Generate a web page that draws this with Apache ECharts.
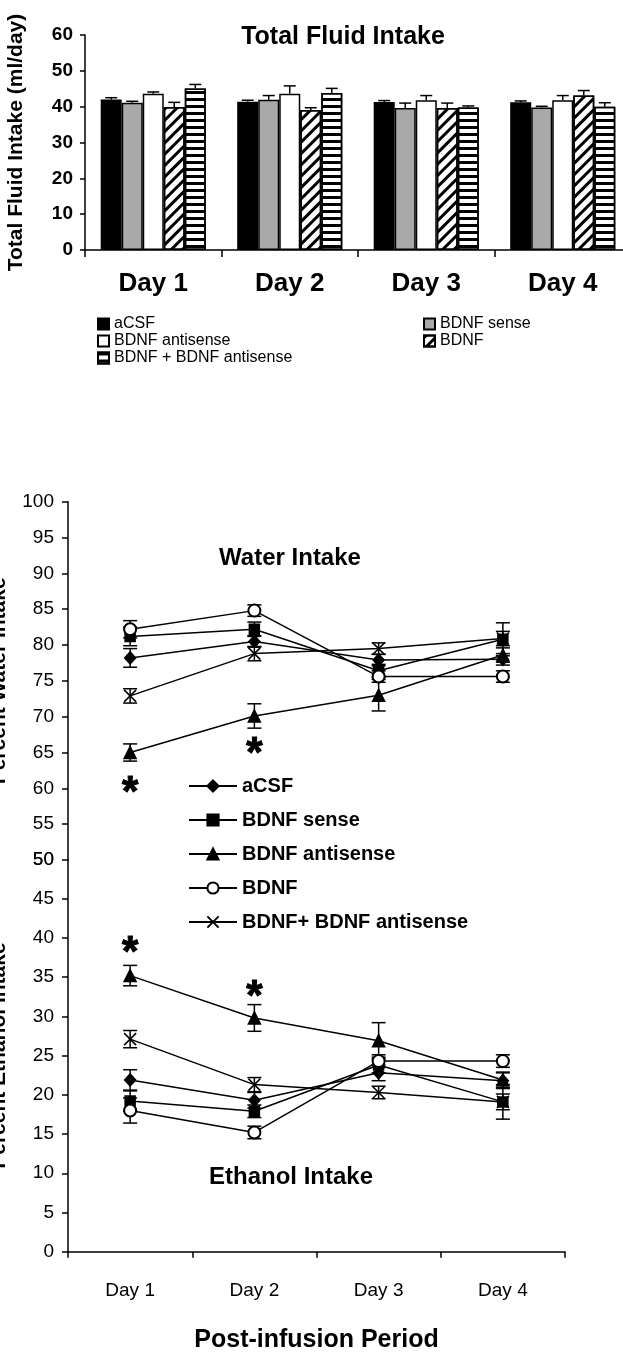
<!DOCTYPE html>
<html><head><meta charset="utf-8">
<script src="https://cdn.jsdelivr.net/npm/echarts@6/dist/echarts.min.js"></script>
<style>
html,body{margin:0;padding:0;background:#fff;width:623px;height:1352px;overflow:hidden}
#c1,#c2{position:absolute;left:0;top:0;width:623px;height:1352px}
</style></head>
<body><div id="c1"></div><div id="c2"></div>
<script>
// ---------- shared categories ----------
const days = ['Day 1', 'Day 2', 'Day 3', 'Day 4'];

// ---------- Total Fluid Intake (ml/day) ----------
const barGroups = ['aCSF', 'BDNF sense', 'BDNF antisense', 'BDNF', 'BDNF + BDNF antisense'];
const fluidACSF = [42.0, 41.4, 41.3, 41.2];
const fluidSense = [41.1, 41.9, 39.6, 39.8];
const fluidAnti = [43.6, 43.6, 41.8, 41.8];
const fluidBDNF = [39.9, 39.1, 39.6, 43.1];
const fluidCombo = [45.1, 43.8, 39.8, 40.0];
const fluidACSFErr = [0.5, 0.4, 0.4, 0.4];
const fluidSenseErr = [0.4, 1.2, 1.4, 0.3];
const fluidAntiErr = [0.5, 2.2, 1.3, 1.3];
const fluidBDNFErr = [1.3, 0.6, 1.4, 1.4];
const fluidComboErr = [1.1, 1.3, 0.4, 1.1];
const fluidTicks = [0, 10, 20, 30, 40, 50, 60];

// ---------- Percent Water Intake ----------
const lineGroups = ['aCSF', 'BDNF sense', 'BDNF antisense', 'BDNF', 'BDNF+ BDNF antisense'];
const waterACSF = [78.2, 80.5, 77.9, 78.0];
const waterSense = [81.2, 82.2, 76.4, 80.8];
const waterAnti = [65.0, 70.1, 73.0, 78.6];
const waterBDNF = [82.2, 84.8, 75.6, 75.6];
const waterCombo = [72.9, 78.8, 79.5, 80.9];
const waterACSFErr = [1.3, 0.8, 0.8, 0.8];
const waterSenseErr = [1.3, 1.0, 0.9, 2.3];
const waterAntiErr = [1.2, 1.7, 2.2, 1.0];
const waterBDNFErr = [1.2, 0.8, 0.8, 0.8];
const waterComboErr = [1.0, 1.0, 0.8, 1.0];
const waterStars = [[0, 61.0], [1, 66.4]];

// ---------- Percent Ethanol Intake ----------
const ethACSF = [21.9, 19.3, 22.8, 21.8];
const ethSense = [19.2, 17.9, 23.8, 19.1];
const ethAnti = [35.2, 29.8, 26.9, 21.9];
const ethBDNF = [18.0, 15.2, 24.3, 24.3];
const ethCombo = [27.1, 21.3, 20.3, 19.1];
const ethACSFErr = [1.3, 1.0, 1.0, 1.0];
const ethSenseErr = [1.3, 0.8, 1.0, 2.2];
const ethAntiErr = [1.3, 1.7, 2.3, 1.0];
const ethBDNFErr = [1.6, 0.8, 0.8, 0.8];
const ethComboErr = [1.1, 0.9, 0.8, 1.0];
const ethStars = [[0, 39.6], [1, 34.0]];

const FONT = "'Liberation Sans', Arial, sans-serif";
const NARROW = "'Liberation Sans Narrow', 'Liberation Sans', Arial, sans-serif";

// ================= Chart 1: bars =================
const fluidVals = [fluidACSF, fluidSense, fluidAnti, fluidBDNF, fluidCombo];
const fluidErrs = [fluidACSFErr, fluidSenseErr, fluidAntiErr, fluidBDNFErr, fluidComboErr];
const hatchDiag = {symbol: 'rect', symbolSize: 1, color: '#000', dashArrayX: [1, 0], dashArrayY: [3, 5], rotation: -Math.PI / 4};
const hatchHoriz = {symbol: 'rect', symbolSize: 1, color: '#000', dashArrayX: [1, 0], dashArrayY: [3, 4], rotation: 0};
const barStyles = [
  {color: '#000', borderColor: '#000', borderWidth: 1.5},
  {color: '#a9a9a9', borderColor: '#000', borderWidth: 1.5},
  {color: '#fff', borderColor: '#000', borderWidth: 1.5},
  {color: '#fff', borderColor: '#000', borderWidth: 1.5, decal: hatchDiag},
  {color: '#fff', borderColor: '#000', borderWidth: 1.5, decal: hatchHoriz}
];
const CAT_GAP = 0.23;
const barSeries = barGroups.map((name, i) => ({
  name, type: 'bar', data: fluidVals[i], barGap: '0%', barCategoryGap: (CAT_GAP * 100) + '%',
  itemStyle: barStyles[i], emphasis: {disabled: true}, z: 2
}));
const barErrData = [];
fluidVals.forEach((arr, s) => arr.forEach((v, d) => barErrData.push([d, v, fluidErrs[s][d], s])));
barSeries.push({
  type: 'custom', data: barErrData, z: 5, silent: true,
  renderItem: function (params, api) {
    const d = api.value(0), v = api.value(1), e = api.value(2), s = api.value(3);
    const base = api.coord([d, v]);
    const top = api.coord([d, v + e]);
    const cw = api.size([1, 0])[0];
    const bw = cw * (1 - CAT_GAP) / 5;
    const x = base[0] + (s - 2) * bw;
    const cap = 6;
    const st = {stroke: '#000', lineWidth: 1.5};
    return {type: 'group', children: [
      {type: 'line', shape: {x1: x, y1: base[1], x2: x, y2: top[1]}, style: st},
      {type: 'line', shape: {x1: x - cap, y1: top[1], x2: x + cap, y2: top[1]}, style: st}
    ]};
  }
});

const chart1 = echarts.init(document.getElementById('c1'), null, {renderer: 'canvas'});
const legendCommon = {
  orient: 'vertical', icon: 'rect', itemWidth: 11, itemHeight: 11, itemGap: 1, selectedMode: false,
  textStyle: {fontFamily: FONT, fontSize: 16, lineHeight: 16, color: '#000'}
};
chart1.setOption({
  animation: false,
  backgroundColor: 'transparent',
  graphic: [{type: 'text', x: 343, y: 37, style: {text: 'Total Fluid Intake', font: "bold 25px " + FONT, fill: '#000', textAlign: 'center', textVerticalAlign: 'middle'}}],
  legend: [
    Object.assign({data: ['aCSF', 'BDNF antisense', 'BDNF + BDNF antisense'], left: 92, top: 311}, legendCommon),
    Object.assign({data: ['BDNF sense', 'BDNF'], left: 418, top: 311}, legendCommon)
  ],
  grid: {left: 85, right: -8, top: 35, height: 215, outerBoundsMode: 'none', containLabel: false},
  xAxis: {
    type: 'category', data: days,
    axisLine: {lineStyle: {color: '#000', width: 1.5}},
    axisTick: {show: true, interval: 0, length: 7, lineStyle: {color: '#000', width: 1.5}},
    axisLabel: {fontFamily: FONT, fontWeight: 'bold', fontSize: 26, color: '#000', margin: 21}
  },
  yAxis: {
    type: 'value', min: fluidTicks[0], max: fluidTicks[fluidTicks.length - 1], interval: 10,
    name: 'Total Fluid Intake (ml/day)', nameLocation: 'middle', nameGap: 58,
    nameTextStyle: {fontFamily: FONT, fontWeight: 'bold', fontSize: 21, color: '#000'},
    axisLine: {show: true, lineStyle: {color: '#000', width: 1.5}},
    axisTick: {show: true, length: 5, lineStyle: {color: '#000', width: 1.5}},
    splitLine: {show: false},
    axisLabel: {fontFamily: NARROW, fontWeight: 'bold', fontSize: 19, color: '#000', margin: 12}
  },
  series: barSeries
});

// ================= Chart 2: lines =================
const waterVals = [waterACSF, waterSense, waterAnti, waterBDNF, waterCombo];
const waterErrs = [waterACSFErr, waterSenseErr, waterAntiErr, waterBDNFErr, waterComboErr];
const ethVals = [ethACSF, ethSense, ethAnti, ethBDNF, ethCombo];
const ethErrs = [ethACSFErr, ethSenseErr, ethAntiErr, ethBDNFErr, ethComboErr];
const symbols = ['diamond', 'rect', 'triangle', 'emptyCircle', 'path://M0,0L10,10M10,0L0,10'];
const symSizes = [[11, 12], 10, 12, 12, 12];

function lineSeries(vals, gridIdx) {
  return lineGroups.map((name, i) => ({
    name, type: 'line', data: vals[i], xAxisIndex: gridIdx, yAxisIndex: gridIdx,
    symbol: symbols[i], symbolSize: symSizes[i], showSymbol: true,
    lineStyle: {color: '#000', width: 1.5},
    itemStyle: {color: '#000', borderColor: '#000', borderWidth: 1.5},
    emphasis: {disabled: true}, z: 3
  }));
}
function errSeries(vals, errs, gridIdx) {
  const data = [];
  vals.forEach((arr, s) => arr.forEach((v, d) => data.push([d, v, errs[s][d]])));
  return {
    type: 'custom', data, xAxisIndex: gridIdx, yAxisIndex: gridIdx, z: 2, silent: true,
    renderItem: function (params, api) {
      const d = api.value(0), v = api.value(1), e = api.value(2);
      const t = api.coord([d, v + e]);
      const b = api.coord([d, v - e]);
      const x = t[0], cap = 7;
      const st = {stroke: '#000', lineWidth: 1.5};
      return {type: 'group', children: [
        {type: 'line', shape: {x1: x, y1: t[1], x2: x, y2: b[1]}, style: st},
        {type: 'line', shape: {x1: x - cap, y1: t[1], x2: x + cap, y2: t[1]}, style: st},
        {type: 'line', shape: {x1: x - cap, y1: b[1], x2: x + cap, y2: b[1]}, style: st}
      ]};
    }
  };
}
function starSeries(data, gridIdx) {
  return {
    type: 'scatter', data, xAxisIndex: gridIdx, yAxisIndex: gridIdx, symbolSize: 0, silent: true,
    label: {show: true, formatter: '*', position: 'inside', offset: [0, 12], fontFamily: FONT, fontWeight: 'bold', fontSize: 42, color: '#000', opacity: 1, textBorderColor: '#000', textBorderWidth: 1}
  };
}
const yLabel = {fontFamily: FONT, fontSize: 19, color: '#000', margin: 14};
const yCommon = {
  type: 'value', interval: 5, nameLocation: 'middle', nameGap: 58,
  nameTextStyle: {fontFamily: FONT, fontWeight: 'bold', fontSize: 21, color: '#000'},
  axisLine: {show: true, lineStyle: {color: '#000', width: 1.5}},
  axisTick: {show: true, length: 6, lineStyle: {color: '#000', width: 1.5}},
  splitLine: {show: false}, axisLabel: yLabel
};

const chart2 = echarts.init(document.getElementById('c2'), null, {renderer: 'canvas'});
chart2.setOption({
  animation: false,
  backgroundColor: 'transparent',
  graphic: [
    {type: 'text', x: 290, y: 558, style: {text: 'Water Intake', font: "bold 24px " + FONT, fill: '#000', textAlign: 'center', textVerticalAlign: 'middle'}},
    {type: 'text', x: 291, y: 1177, style: {text: 'Ethanol Intake', font: "bold 24px " + FONT, fill: '#000', textAlign: 'center', textVerticalAlign: 'middle'}}
  ],
  legend: {
    data: lineGroups, orient: 'vertical', left: 183, top: 771, itemWidth: 48, itemHeight: 14, itemGap: 14,
    selectedMode: false,
    textStyle: {fontFamily: FONT, fontWeight: 'bold', fontSize: 20, lineHeight: 20, color: '#000'}
  },
  grid: [
    {left: 68, right: 58, top: 501.7, height: 358.3, outerBoundsMode: 'none', containLabel: false},
    {left: 68, right: 58, top: 859.5, height: 392.2, outerBoundsMode: 'none', containLabel: false}
  ],
  xAxis: [
    {type: 'category', data: days, gridIndex: 0, show: false},
    {type: 'category', data: days, gridIndex: 1,
      name: 'Post-infusion Period', nameLocation: 'middle', nameGap: 76,
      nameTextStyle: {fontFamily: FONT, fontWeight: 'bold', fontSize: 25, color: '#000'},
      axisLine: {lineStyle: {color: '#000', width: 1.5}},
      axisTick: {show: true, interval: 0, length: 6, lineStyle: {color: '#000', width: 1.5}},
      axisLabel: {fontFamily: FONT, fontSize: 19, color: '#000', margin: 30}}
  ],
  yAxis: [
    Object.assign({}, yCommon, {gridIndex: 0, min: 50, max: 100, name: 'Percent Water Intake'}),
    Object.assign({}, yCommon, {gridIndex: 1, min: 0, max: 50, name: 'Percent Ethanol Intake'})
  ],
  series: [].concat(
    lineSeries(waterVals, 0), lineSeries(ethVals, 1),
    [errSeries(waterVals, waterErrs, 0), errSeries(ethVals, ethErrs, 1),
     starSeries(waterStars, 0), starSeries(ethStars, 1)]
  )
});
</script>
</body></html>
